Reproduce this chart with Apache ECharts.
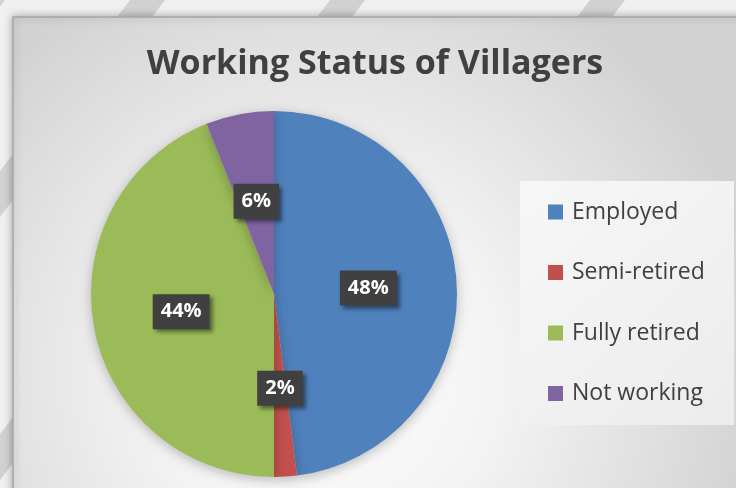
<!DOCTYPE html>
<html>
<head>
<meta charset="utf-8">
<script src="https://cdn.jsdelivr.net/npm/echarts@6/dist/echarts.min.js"></script>
<style>
  html, body { margin: 0; padding: 0; background: #ececec; }
  #main { width: 736px; height: 488px; }
</style>
</head>
<body>
<div id="main"></div>
<script>
// working status of villagers (percent)
var categories = ['Employed', 'Semi-retired', 'Fully retired', 'Not working'];
var values = [48, 2, 44, 6];
var colors = ['#4f81bd', '#c0504d', '#9bbb59', '#8064a2'];

var chart = echarts.init(document.getElementById('main'), null, { renderer: 'canvas' });

// diagonal stripes outside the chart frame
var stripes = [];
var stripeX = [-60, 100, 300, 560];
stripeX.forEach(function (x) {
  stripes.push({
    type: 'polygon',
    shape: { points: [[x + 30, 0], [x + 65, 0], [x - 300, 480], [x - 335, 480]] },
    style: { fill: 'rgba(140,140,140,0.3)' },
    silent: true
  });
});

var option = {
  backgroundColor: '#f0f0f0',
  color: colors,
  graphic: stripes.concat([
    {
      type: 'rect',
      shape: { x: 13, y: 17, width: 740, height: 490 },
      style: {
        fill: {
          type: 'radial', x: 0.42, y: 0.72, r: 0.9,
          colorStops: [
            { offset: 0, color: '#ffffff' },
            { offset: 0.4, color: '#f3f3f3' },
            { offset: 0.75, color: '#e0e0e0' },
            { offset: 1, color: '#d2d2d2' }
          ]
        },
        stroke: '#a6a6a6',
        lineWidth: 1.5,
        shadowBlur: 8,
        shadowColor: 'rgba(0,0,0,0.3)'
      },
      silent: true
    },
    {
      type: 'rect',
      shape: { x: 520, y: 181, width: 214, height: 244 },
      style: {
        fill: {
          type: 'linear', x: 0, y: 0, x2: 1, y2: 1,
          colorStops: [
            { offset: 0, color: '#f7f7f7' },
            { offset: 1, color: '#ececec' }
          ]
        }
      },
      silent: true
    }
  ]),
  title: {
    text: 'Working Status of Villagers',
    left: 370,
    textAlign: 'center',
    top: 42,
    textStyle: {
      fontFamily: 'Open Sans',
      fontWeight: 'bold',
      fontSize: 34,
      color: '#404040'
    }
  },
  legend: {
    orient: 'vertical',
    left: 548,
    top: 197,
    padding: 0,
    itemWidth: 15,
    itemHeight: 15,
    itemGap: 30.5,
    icon: 'rect',
    selectedMode: false,
    data: categories,
    textStyle: {
      fontFamily: 'Open Sans',
      fontSize: 23,
      color: '#404040',
      padding: [0, 0, 0, 4],
      lineHeight: 30
    }
  },
  series: [{
    type: 'pie',
    center: [274, 294],
    radius: [0, 183],
    startAngle: 90,
    clockwise: true,
    animation: false,
    itemStyle: {
      shadowBlur: 12,
      shadowOffsetY: 3,
      shadowColor: 'rgba(0,0,0,0.25)'
    },
    label: {
      position: 'inside',
      formatter: function (p) { return p.value + '%'; },
      fontFamily: 'Open Sans',
      fontWeight: 'bold',
      fontSize: 20,
      lineHeight: 22,
      color: '#ffffff',
      backgroundColor: '#404040',
      padding: [7, 8, 6, 8],
      shadowColor: 'rgba(0,0,0,0.45)',
      shadowBlur: 4,
      shadowOffsetX: 3,
      shadowOffsetY: 3
    },
    labelLine: { show: false },
    emphasis: { disabled: true },
    data: categories.map(function (c, i) {
      return { name: c, value: values[i] };
    })
  }]
};

chart.setOption(option);
</script>
</body>
</html>
